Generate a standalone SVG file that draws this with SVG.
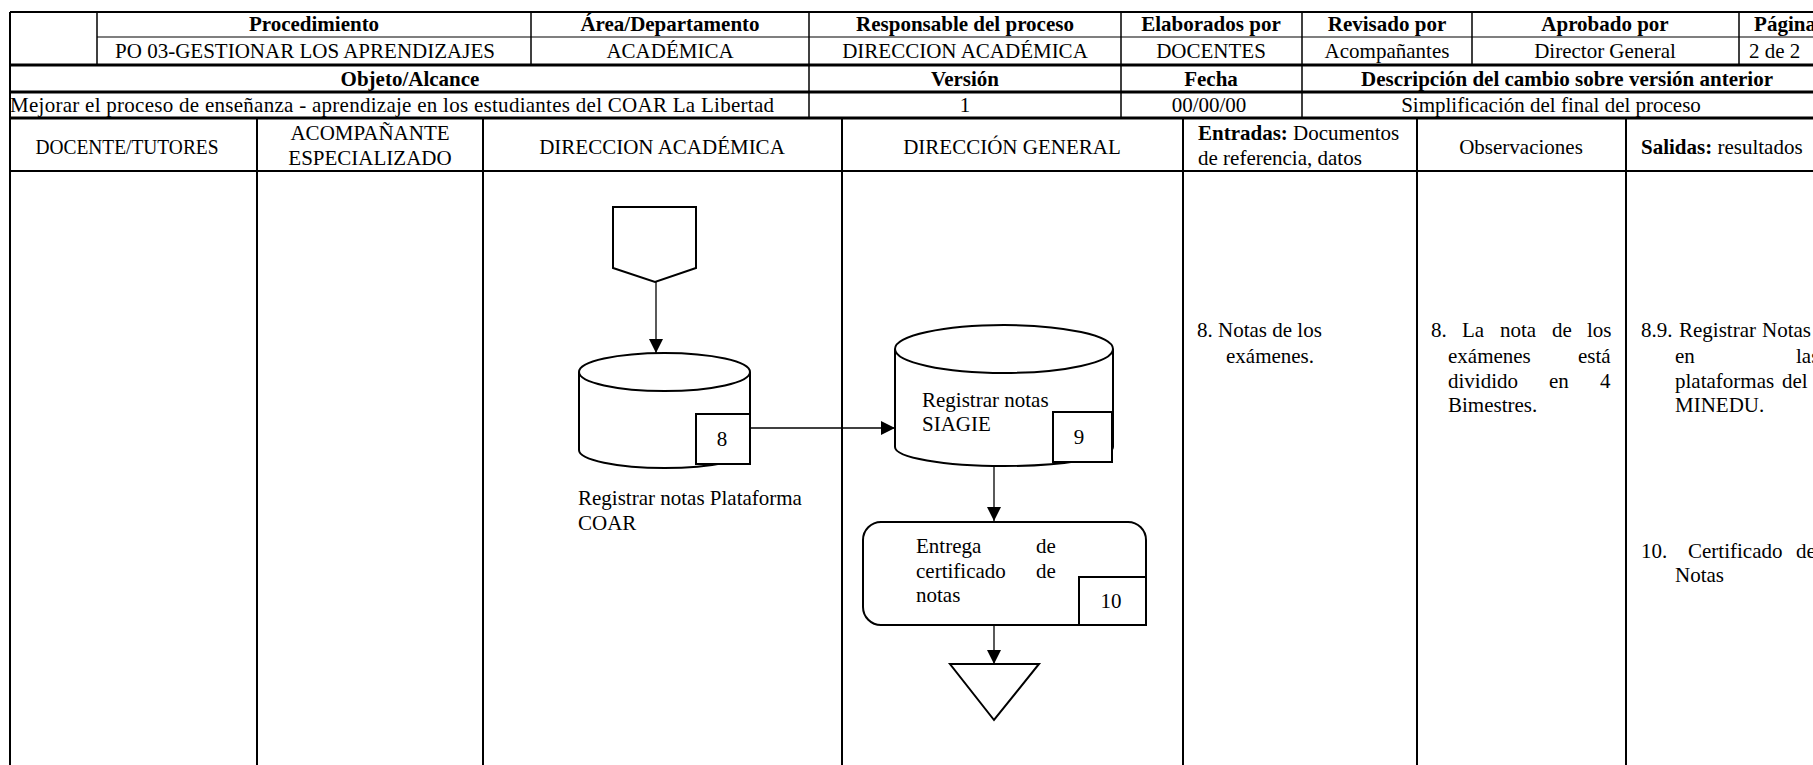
<svg xmlns="http://www.w3.org/2000/svg" width="1813" height="765" viewBox="0 0 1813 765">
<style>
text{font-family:"Liberation Serif","Times New Roman",serif;font-size:21px;fill:#000}
.b{font-weight:bold}
.c{text-anchor:middle}
.ln{stroke:#000;fill:none}
.shape{stroke:#000;stroke-width:2;fill:#fff}
.conn{stroke:#000;stroke-width:1.3;fill:none}
</style>
<defs>
<marker id="arr" viewBox="0 0 14 14" refX="14" refY="7" markerWidth="14" markerHeight="14" markerUnits="userSpaceOnUse" orient="auto">
<path d="M0,0 L14,7 L0,14 Z" fill="#000"/>
</marker>
</defs>
<rect x="0" y="0" width="1813" height="765" fill="#fff"/>

<g id="table">
<g class="ln">
<line x1="10" y1="12" x2="1813" y2="12" stroke-width="2"/>
<line x1="97" y1="37" x2="1813" y2="37" stroke-width="1.2"/>
<line x1="10" y1="65" x2="1813" y2="65" stroke-width="3"/>
<line x1="10" y1="92" x2="1813" y2="92" stroke-width="3"/>
<line x1="10" y1="118" x2="1813" y2="118" stroke-width="3"/>
<line x1="10" y1="171" x2="1813" y2="171" stroke-width="2"/>
<line x1="10" y1="12" x2="10" y2="765" stroke-width="2"/>
<line x1="97" y1="12" x2="97" y2="65" stroke-width="1.5"/>
<line x1="531" y1="12" x2="531" y2="65" stroke-width="1.5"/>
<line x1="809" y1="12" x2="809" y2="118" stroke-width="1.5"/>
<line x1="1121" y1="12" x2="1121" y2="118" stroke-width="1.5"/>
<line x1="1302" y1="12" x2="1302" y2="118" stroke-width="1.5"/>
<line x1="1472" y1="12" x2="1472" y2="65" stroke-width="1.5"/>
<line x1="1739" y1="12" x2="1739" y2="65" stroke-width="1.5"/>
<line x1="257" y1="118" x2="257" y2="765" stroke-width="2"/>
<line x1="483" y1="118" x2="483" y2="765" stroke-width="2"/>
<line x1="842" y1="118" x2="842" y2="765" stroke-width="2"/>
<line x1="1183" y1="118" x2="1183" y2="765" stroke-width="2"/>
<line x1="1417" y1="118" x2="1417" y2="765" stroke-width="2"/>
<line x1="1626" y1="118" x2="1626" y2="765" stroke-width="2"/>
</g>
<text class="b c" x="314" y="31">Procedimiento</text>
<text class="b c" x="670" y="31">Área/Departamento</text>
<text class="b c" x="965" y="31">Responsable del proceso</text>
<text class="b c" x="1211" y="31">Elaborados por</text>
<text class="b c" x="1387" y="31">Revisado por</text>
<text class="b c" x="1605" y="31">Aprobado por</text>
<text class="b c" x="1785" y="31">Página</text>
<text class="c" x="305" y="58">PO 03-GESTIONAR LOS APRENDIZAJES</text>
<text class="c" x="670" y="58">ACADÉMICA</text>
<text class="c" x="965" y="58">DIRECCION ACADÉMICA</text>
<text class="c" x="1211" y="58">DOCENTES</text>
<text class="c" x="1387" y="58">Acompañantes</text>
<text class="c" x="1605" y="58">Director General</text>
<text x="1749" y="58">2 de 2</text>
<text class="b c" x="410" y="86">Objeto/Alcance</text>
<text class="b c" x="965" y="86">Versión</text>
<text class="b c" x="1211" y="86">Fecha</text>
<text class="b c" x="1567" y="86">Descripción del cambio sobre versión anterior</text>
<text x="10" y="112" textLength="764" lengthAdjust="spacing">Mejorar el proceso de enseñanza - aprendizaje en los estudiantes del COAR La Libertad</text>
<text class="c" x="965" y="112">1</text>
<text class="c" x="1209" y="112">00/00/00</text>
<text class="c" x="1551" y="112">Simplificación del final del proceso</text>
<text class="c" x="127" y="154" textLength="183" lengthAdjust="spacingAndGlyphs">DOCENTE/TUTORES</text>
<text class="c" x="370" y="140">ACOMPAÑANTE</text>
<text class="c" x="370" y="165">ESPECIALIZADO</text>
<text class="c" x="662" y="154">DIRECCION ACADÉMICA</text>
<text class="c" x="1012" y="154">DIRECCIÓN GENERAL</text>
<text x="1198" y="140"><tspan class="b">Entradas:</tspan> Documentos</text>
<text x="1198" y="165">de referencia, datos</text>
<text class="c" x="1521" y="154">Observaciones</text>
<text x="1641" y="154"><tspan class="b">Salidas:</tspan> resultados</text>
</g>

<g id="notes">
<text x="1197" y="337">8. Notas de los</text>
<text x="1226" y="363">exámenes.</text>
<text y="337"><tspan x="1431">8.</tspan><tspan x="1462">La</tspan><tspan x="1500">nota</tspan><tspan x="1552">de</tspan><tspan x="1587">los</tspan></text>
<text y="363"><tspan x="1448">exámenes</tspan><tspan x="1578">está</tspan></text>
<text y="388"><tspan x="1448">dividido</tspan><tspan x="1549">en</tspan><tspan x="1600">4</tspan></text>
<text x="1448" y="412">Bimestres.</text>
<text y="337"><tspan x="1641">8.9.</tspan><tspan x="1679">Registrar</tspan><tspan x="1762">Notas</tspan></text>
<text y="363"><tspan x="1675">en</tspan><tspan x="1796">las</tspan></text>
<text y="388"><tspan x="1675">plataformas</tspan><tspan x="1782">del</tspan></text>
<text x="1675" y="412">MINEDU.</text>
<text y="558"><tspan x="1641">10.</tspan><tspan x="1688">Certificado</tspan><tspan x="1796">de</tspan></text>
<text x="1675" y="582">Notas</text>
</g>

<g id="connectors">
<line class="conn" x1="656" y1="282" x2="656" y2="353" marker-end="url(#arr)"/>
<line class="conn" x1="750" y1="428" x2="895" y2="428" marker-end="url(#arr)"/>
<line class="conn" x1="994" y1="466" x2="994" y2="521" marker-end="url(#arr)"/>
<line class="conn" x1="994" y1="622" x2="994" y2="664" marker-end="url(#arr)"/>
</g>

<g id="start-connector">
<path class="shape" d="M613,207 L696,207 L696,268 L655,282 L613,268 Z"/>
</g>

<g id="node-8">
<path class="shape" d="M579,372 L579,450 A85.5,18 0 0 0 750,450 L750,372"/>
<ellipse class="shape" cx="664.5" cy="372" rx="85.5" ry="19"/>
<rect class="shape" x="696" y="414" width="54" height="50"/>
<text class="c" x="722" y="446">8</text>
<text x="578" y="505">Registrar notas Plataforma</text>
<text x="578" y="530">COAR</text>
</g>

<g id="node-9">
<path class="shape" d="M895,349 L895,447 A109,19 0 0 0 1113,447 L1113,349"/>
<ellipse class="shape" cx="1004" cy="349" rx="109" ry="24"/>
<text x="922" y="407">Registrar notas</text>
<text x="922" y="431">SIAGIE</text>
<rect class="shape" x="1053" y="412" width="59" height="50"/>
<text class="c" x="1079" y="444">9</text>
</g>

<g id="node-10">
<rect class="shape" x="863" y="522" width="283" height="103" rx="18" ry="18"/>
<text y="553"><tspan x="916">Entrega</tspan><tspan x="1036">de</tspan></text>
<text y="578"><tspan x="916">certificado</tspan><tspan x="1036">de</tspan></text>
<text x="916" y="602">notas</text>
<rect class="shape" x="1079" y="577" width="67" height="48"/>
<text class="c" x="1111" y="608">10</text>
</g>

<g id="end">
<path class="shape" d="M950,664 L1039,664 L994,720 Z"/>
</g>
</svg>
